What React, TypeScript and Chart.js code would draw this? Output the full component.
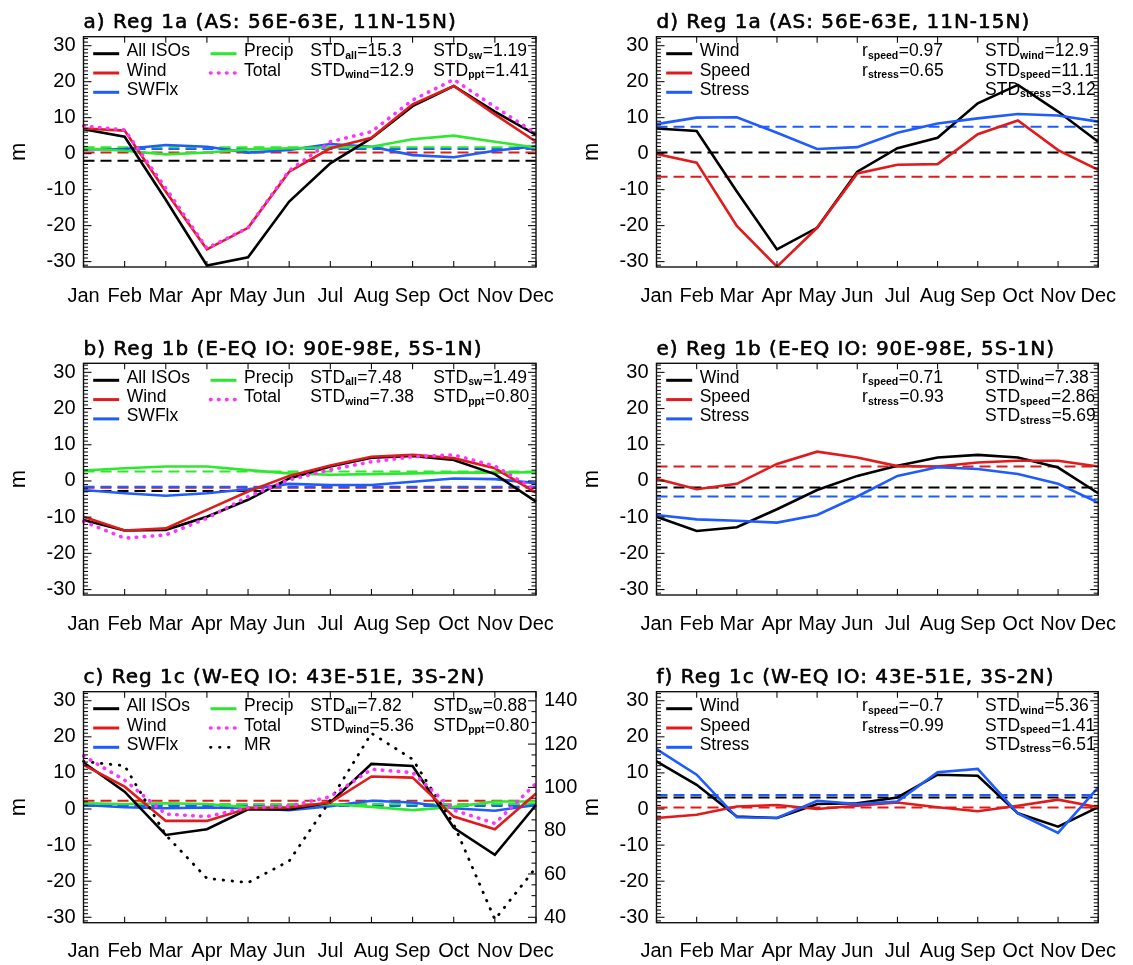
import React, { useEffect, useRef } from "react";
import { Chart, registerables } from "chart.js";

Chart.register(...registerables);

// ---- axes ----
const MONTHS = ["Jan", "Feb", "Mar", "Apr", "May", "Jun", "Jul", "Aug", "Sep", "Oct", "Nov", "Dec"];
const Y_TICKS = [-30, -20, -10, 0, 10, 20, 30];
const MR_TICKS = [40, 60, 80, 100, 120, 140];
const Y_MIN = -31.5;
const Y_MAX = 32.5;
const MR_MIN = 37.5;
const MR_MAX = 144.2;

// ---- a) Reg 1a, ISO contributions (m) ----
const A_ALL = [6.8, 4.7, -12.8, -31.1, -28.8, -13.3, -2.7, 4.3, 13.2, 18.8, 11.7, 5.2];
const A_WIND = [7.0, 6.4, -10.5, -26.6, -20.6, -5.0, 1.5, 4.4, 13.7, 18.8, 10.9, 3.3];
const A_SWFLX = [1.2, 1.3, 2.4, 1.9, 0.3, 1.0, 2.7, 1.9, -0.4, -1.0, 0.8, 2.1];
const A_PRECIP = [1.5, 0.8, -0.2, 0.3, 1.2, 1.5, 1.7, 1.9, 4.0, 5.0, 3.3, 1.7];
const A_TOTAL = [7.7, 6.6, -9.6, -26.3, -20.6, -4.7, 3.3, 6.1, 14.9, 20.6, 13.0, 5.6];
const A_MEANS = [-2.0, 0.3, 1.3, 1.8]; // all, wind, swflx, precip
const A_STD = ["15.3", "12.9", "1.19", "1.41"]; // all, wind, sw, ppt

// ---- b) Reg 1b ----
const B_ALL = [-10.8, -13.7, -13.5, -9.9, -5.2, 0.7, 4.0, 6.4, 6.9, 5.8, 1.9, -5.7];
const B_WIND = [-9.9, -13.7, -13.1, -8.0, -2.9, 1.4, 4.3, 6.7, 7.2, 6.3, 3.5, -3.2];
const B_SWFLX = [-2.5, -3.4, -4.1, -3.4, -2.3, -0.8, -1.1, -1.1, -0.2, 0.7, 0.5, -0.6];
const B_PRECIP = [2.9, 3.5, 4.0, 4.0, 3.0, 2.1, 1.7, 1.9, 2.1, 2.3, 2.3, 2.4];
const B_TOTAL = [-11.2, -15.8, -14.9, -10.3, -4.3, 0.3, 3.1, 5.3, 6.7, 7.2, 4.1, -2.5];
const B_MEANS = [-2.8, -1.9, -1.6, 2.6];
const B_STD = ["7.48", "7.38", "1.49", "0.80"];

// ---- c) Reg 1c ----
const C_ALL = [12.9, 4.8, -7.2, -5.6, -0.1, -0.1, 1.8, 12.5, 11.9, -5.2, -12.7, 1.1];
const C_WIND = [12.2, 6.2, -3.3, -3.3, 0.2, 0.4, 1.8, 9.0, 8.7, -2.1, -5.6, 4.3];
const C_SWFLX = [1.1, 0.5, 0.2, 0.4, 0.2, -0.3, 0.8, 2.3, 1.8, 0.2, -0.5, 1.1];
const C_PRECIP = [1.6, 1.4, 1.6, 1.4, 0.5, 0.6, 1.4, 0.6, -0.3, 0.6, 2.1, 2.1];
const C_TOTAL = [14.7, 8.0, -1.4, -2.1, 0.4, 0.8, 3.4, 11.0, 10.1, -0.3, -4.0, 7.1];
const C_MR = [112, 110, 78, 58, 56, 66, 94, 125, 113, 83, 39, 63];
const C_MEANS = [1.2, 2.3, 0.8, 1.4];
const C_STD = ["7.82", "5.36", "0.88", "0.80"];

// ---- d) Reg 1a, wind decomposition ----
const D_WIND = [7.0, 6.3, -10.5, -26.6, -20.6, -5.0, 1.5, 4.4, 14.0, 19.1, 11.7, 3.3];
const D_SPEED = [-0.1, -2.5, -20.1, -31.4, -20.6, -5.5, -3.1, -2.9, 5.4, 9.2, 1.0, -4.5];
const D_STRESS = [8.2, 10.0, 10.1, 5.8, 1.3, 1.8, 5.8, 8.4, 9.8, 11.0, 10.6, 8.9];
const D_MEANS = [0.3, -6.4, 7.5]; // wind, speed, stress
const D_R = ["0.97", "0.65"];
const D_STD = ["12.9", "11.1", "3.12"];

// ---- e) Reg 1b ----
const E_WIND = [-9.9, -13.8, -12.8, -7.8, -2.5, 1.4, 4.2, 6.5, 7.2, 6.5, 3.7, -3.4];
const E_SPEED = [0.6, -2.3, -0.8, 4.7, 8.1, 6.5, 4.1, 4.0, 5.1, 5.6, 5.6, 4.0];
const E_STRESS = [-9.4, -10.6, -11.0, -11.5, -9.4, -4.3, 1.4, 3.8, 3.3, 1.9, -0.8, -6.0];
const E_MEANS = [-1.8, 4.0, -4.3];
const E_R = ["0.71", "0.93"];
const E_STD = ["7.38", "2.86", "5.69"];

// ---- f) Reg 1c ----
const F_WIND = [13.2, 6.7, -2.1, -2.5, 1.4, 1.6, 3.2, 9.5, 9.2, -1.2, -4.9, 0.5];
const F_SPEED = [-2.5, -1.6, 0.7, 1.1, 0.0, 0.9, 1.8, 0.5, -0.6, 0.9, 2.6, 0.5];
const F_STRESS = [16.6, 9.5, -2.3, -2.5, 2.3, 1.4, 2.1, 10.2, 11.1, -1.2, -6.6, 6.0];
const F_MEANS = [3.2, 0.4, 3.9];
const F_R = ["\u22120.7", "0.99"];
const F_STD = ["5.36", "1.41", "6.51"];

// ---- styling ----
const BLACK = "#000000";
const RED = "#e01b1b";
const GREEN = "#2ee82e";
const BLUE = "#1f5cff";
const MAGENTA = "#ff33ff";

const SANS = '"Liberation Sans", Arial, sans-serif';
const TITLE_FONT = '20px "DejaVu Sans", sans-serif';
const LEGEND_FONT = `17.5px ${SANS}`;
const ROW_BASE = [19.5, 38.8, 58.1];

type LineStyle = "solid" | "dash" | "dot" | "mrdot";
const STYLES: Record<LineStyle, { width: number; dash: number[]; cap: CanvasLineCap }> = {
  solid: { width: 2.6, dash: [], cap: "butt" },
  dash: { width: 2, dash: [11, 6], cap: "butt" },
  dot: { width: 3.6, dash: [0.5, 7.5], cap: "round" },
  mrdot: { width: 2.8, dash: [0.5, 8.5], cap: "round" },
};

type Series = { data: number[]; color: string; style: LineStyle; axis?: "y2" };
type Key = { label: string; color: string; style: LineStyle };
type Part = { t: string; sub?: boolean };
type Panel = {
  id: string;
  x: number; y: number; w: number; h: number;
  left: number; right: number; top: number; bottom: number;
  title: string;
  mr: boolean;
  series: Series[];
  keys: { x: number; items: Key[] }[];
  stats: { x: number; rows: Part[][] }[];
};

const sub = (a: string, s: string, b: string): Part[] => [{ t: a }, { t: s, sub: true }, { t: b }];
const flat = (v: number) => MONTHS.map(() => v);

const LEFT_COL = { x: 0, w: 600, left: 83.5, right: 536 };
const RIGHT_COL = { x: 566, w: 567, left: 90.5, right: 542.5 };
const ROWS = [
  { y: 0, h: 320, top: 36.7, bottom: 267 },
  { y: 320, h: 325, top: 43.3, bottom: 275 },
  { y: 645, h: 320, top: 46.7, bottom: 277.7 },
];

function isoPanel(
  id: string, row: number, title: string,
  all: number[], wind: number[], sw: number[], ppt: number[], total: number[],
  means: number[], std: string[], mr?: number[]
): Panel {
  const r = ROWS[row];
  const series: Series[] = [{ data: total, color: MAGENTA, style: "dot" }];
  if (mr) series.push({ data: mr, color: BLACK, style: "mrdot", axis: "y2" });
  series.push(
    { data: wind, color: RED, style: "solid" },
    { data: all, color: BLACK, style: "solid" },
    { data: ppt, color: GREEN, style: "solid" },
    { data: sw, color: BLUE, style: "solid" },
    { data: flat(means[3]), color: GREEN, style: "dash" },
    { data: flat(means[2]), color: BLUE, style: "dash" },
    { data: flat(means[1]), color: RED, style: "dash" },
    { data: flat(means[0]), color: BLACK, style: "dash" }
  );
  const col2: Key[] = [
    { label: "Precip", color: GREEN, style: "solid" },
    { label: "Total", color: MAGENTA, style: "dot" },
  ];
  if (mr) col2.push({ label: "MR", color: BLACK, style: "mrdot" });
  return {
    id, x: LEFT_COL.x, y: r.y, w: LEFT_COL.w, h: r.h,
    left: LEFT_COL.left, right: LEFT_COL.right, top: r.top, bottom: r.bottom,
    title, mr: !!mr, series,
    keys: [
      {
        x: 9.7,
        items: [
          { label: "All ISOs", color: BLACK, style: "solid" },
          { label: "Wind", color: RED, style: "solid" },
          { label: "SWFlx", color: BLUE, style: "solid" },
        ],
      },
      { x: 127, items: col2 },
    ],
    stats: [
      { x: 226.7, rows: [sub("STD", "all", "=" + std[0]), sub("STD", "wind", "=" + std[1])] },
      { x: 349.7, rows: [sub("STD", "sw", "=" + std[2]), sub("STD", "ppt", "=" + std[3])] },
    ],
  };
}

function windPanel(
  id: string, row: number, title: string,
  wind: number[], speed: number[], stress: number[],
  means: number[], rv: string[], std: string[]
): Panel {
  const r = ROWS[row];
  return {
    id, x: RIGHT_COL.x, y: r.y, w: RIGHT_COL.w, h: r.h,
    left: RIGHT_COL.left, right: RIGHT_COL.right, top: r.top, bottom: r.bottom,
    title, mr: false,
    series: [
      { data: stress, color: BLUE, style: "solid" },
      { data: speed, color: RED, style: "solid" },
      { data: wind, color: BLACK, style: "solid" },
      { data: flat(means[2]), color: BLUE, style: "dash" },
      { data: flat(means[1]), color: RED, style: "dash" },
      { data: flat(means[0]), color: BLACK, style: "dash" },
    ],
    keys: [
      {
        x: 9.7,
        items: [
          { label: "Wind", color: BLACK, style: "solid" },
          { label: "Speed", color: RED, style: "solid" },
          { label: "Stress", color: BLUE, style: "solid" },
        ],
      },
    ],
    stats: [
      { x: 205.6, rows: [sub("r", "speed", "=" + rv[0]), sub("r", "stress", "=" + rv[1])] },
      {
        x: 328.6,
        rows: [sub("STD", "wind", "=" + std[0]), sub("STD", "speed", "=" + std[1]), sub("STD", "stress", "=" + std[2])],
      },
    ],
  };
}

const PANELS: Panel[] = [
  isoPanel("a", 0, "a) Reg 1a (AS: 56E-63E, 11N-15N)", A_ALL, A_WIND, A_SWFLX, A_PRECIP, A_TOTAL, A_MEANS, A_STD),
  isoPanel("b", 1, "b) Reg 1b (E-EQ IO: 90E-98E, 5S-1N)", B_ALL, B_WIND, B_SWFLX, B_PRECIP, B_TOTAL, B_MEANS, B_STD),
  isoPanel("c", 2, "c) Reg 1c (W-EQ IO: 43E-51E, 3S-2N)", C_ALL, C_WIND, C_SWFLX, C_PRECIP, C_TOTAL, C_MEANS, C_STD, C_MR),
  windPanel("d", 0, "d) Reg 1a (AS: 56E-63E, 11N-15N)", D_WIND, D_SPEED, D_STRESS, D_MEANS, D_R, D_STD),
  windPanel("e", 1, "e) Reg 1b (E-EQ IO: 90E-98E, 5S-1N)", E_WIND, E_SPEED, E_STRESS, E_MEANS, E_R, E_STD),
  windPanel("f", 2, "f) Reg 1c (W-EQ IO: 43E-51E, 3S-2N)", F_WIND, F_SPEED, F_STRESS, F_MEANS, F_R, F_STD),
];

// Frame, inward ticks, title, axis name, legend and statistics text.
function decor(p: Panel) {
  return {
    id: "decor" + p.id,
    afterDraw(chart: any) {
      const { ctx, chartArea: a } = chart;
      const xs = chart.scales.x;
      const ys = chart.scales.y;
      const seg = (x1: number, y1: number, x2: number, y2: number) => {
        ctx.beginPath();
        ctx.moveTo(x1, y1);
        ctx.lineTo(x2, y2);
        ctx.stroke();
      };
      ctx.save();
      ctx.setLineDash([]);
      ctx.strokeStyle = "#111";
      ctx.lineWidth = 1.4;
      ctx.strokeRect(a.left, a.top, a.right - a.left, a.bottom - a.top);
      ctx.lineWidth = 1.1;
      MONTHS.forEach((_, i) => {
        const px = xs.getPixelForValue(i);
        seg(px, a.bottom, px, a.bottom - 6);
        seg(px, a.top, px, a.top + 6);
      });
      for (let v = Math.ceil(Y_MIN); v <= Math.floor(Y_MAX); v++) {
        const py = ys.getPixelForValue(v);
        const len = v % 10 === 0 ? 8 : 4.5;
        seg(a.left, py, a.left + len, py);
        if (!p.mr) seg(a.right, py, a.right - len, py);
      }
      if (p.mr) {
        const y2 = chart.scales.y2;
        for (let v = 40; v <= 140; v += 5) {
          const py = y2.getPixelForValue(v);
          const len = v % 20 === 0 ? 8 : 4.5;
          seg(a.right, py, a.right - len, py);
        }
      }

      // panel title, slightly emboldened
      ctx.fillStyle = "#000";
      ctx.strokeStyle = "#000";
      ctx.textAlign = "left";
      ctx.textBaseline = "alphabetic";
      ctx.font = TITLE_FONT;
      ctx.letterSpacing = "1px";
      ctx.lineWidth = 0.6;
      ctx.lineJoin = "round";
      ctx.fillText(p.title, a.left, a.top - 8.5);
      ctx.strokeText(p.title, a.left, a.top - 8.5);
      ctx.letterSpacing = "0px";

      ctx.save();
      ctx.translate(a.left - 59, (a.top + a.bottom) / 2);
      ctx.rotate(-Math.PI / 2);
      ctx.font = `22px ${SANS}`;
      ctx.textAlign = "center";
      ctx.fillText("m", 0, 0);
      ctx.restore();

      p.keys.forEach((col) =>
        col.items.forEach((k, r) => {
          const by = a.top + ROW_BASE[r];
          const st = STYLES[k.style];
          ctx.strokeStyle = k.color;
          ctx.lineWidth = k.style === "solid" ? 3 : st.width;
          ctx.setLineDash(st.dash);
          ctx.lineCap = st.cap;
          seg(a.left + col.x, by - 2.5, a.left + col.x + 26, by - 2.5);
          ctx.setLineDash([]);
          ctx.lineCap = "butt";
          ctx.font = LEGEND_FONT;
          ctx.fillText(k.label, a.left + col.x + 33.5, by);
        })
      );

      p.stats.forEach((col) =>
        col.rows.forEach((parts, r) => {
          let x = a.left + col.x;
          const by = a.top + ROW_BASE[r];
          parts.forEach((pt) => {
            ctx.font = pt.sub ? `bold 10.5px ${SANS}` : LEGEND_FONT;
            ctx.fillText(pt.t, x, pt.sub ? by + 2.5 : by);
            x += ctx.measureText(pt.t).width + (pt.sub ? 0.5 : 0);
          });
        })
      );
      ctx.restore();
    },
  };
}

function buildConfig(p: Panel): any {
  const tickFont = { family: SANS, size: 20 };
  const datasets = p.series.map((s) => {
    const st = STYLES[s.style];
    return {
      data: s.data,
      borderColor: s.color,
      backgroundColor: s.color,
      borderWidth: st.width,
      borderDash: st.dash,
      borderCapStyle: st.cap,
      pointRadius: 0,
      tension: 0,
      fill: false,
      yAxisID: s.axis ?? "y",
    };
  });
  const scales: any = {
    x: {
      type: "category",
      offset: false,
      grid: { display: false, drawTicks: false },
      border: { display: false },
      ticks: { autoSkip: false, maxRotation: 0, minRotation: 0, padding: 17, color: "#000", font: tickFont },
      afterFit: (s: any) => {
        s.height = p.h - p.bottom;
      },
    },
    y: {
      type: "linear",
      min: Y_MIN,
      max: Y_MAX,
      grid: { display: false, drawTicks: false },
      border: { display: false },
      ticks: { padding: 8, color: "#000", font: tickFont },
      afterBuildTicks: (s: any) => {
        s.ticks = Y_TICKS.map((v) => ({ value: v }));
      },
      afterFit: (s: any) => {
        s.width = p.left;
      },
    },
  };
  if (p.mr) {
    scales.y2 = {
      type: "linear",
      position: "right",
      min: MR_MIN,
      max: MR_MAX,
      grid: { display: false, drawTicks: false },
      border: { display: false },
      ticks: { padding: 8, color: "#000", font: tickFont },
      afterBuildTicks: (s: any) => {
        s.ticks = MR_TICKS.map((v) => ({ value: v }));
      },
      afterFit: (s: any) => {
        s.width = p.w - p.right;
      },
    };
  }
  return {
    type: "line",
    data: { labels: MONTHS, datasets },
    options: {
      animation: false,
      responsive: false,
      maintainAspectRatio: false,
      events: [],
      layout: { padding: { left: 0, top: p.top, right: p.mr ? 0 : p.w - p.right, bottom: 0 } },
      plugins: { legend: { display: false }, tooltip: { enabled: false }, title: { display: false } },
      scales,
    },
    plugins: [decor(p)],
  };
}

function PanelChart({ p }: { p: Panel }) {
  const ref = useRef<HTMLCanvasElement>(null);
  useEffect(() => {
    const chart = new Chart(ref.current as HTMLCanvasElement, buildConfig(p));
    return () => chart.destroy();
  }, [p]);
  return (
    <canvas
      ref={ref}
      width={p.w}
      height={p.h}
      style={{ position: "absolute", left: p.x, top: p.y, width: p.w, height: p.h }}
    />
  );
}

export default function App() {
  return (
    <div
      style={{
        position: "absolute",
        left: 0,
        top: 0,
        width: 1133,
        height: 965,
        background: "#ffffff",
        overflow: "hidden",
      }}
    >
      {PANELS.map((p) => (
        <PanelChart key={p.id} p={p} />
      ))}
    </div>
  );
}
